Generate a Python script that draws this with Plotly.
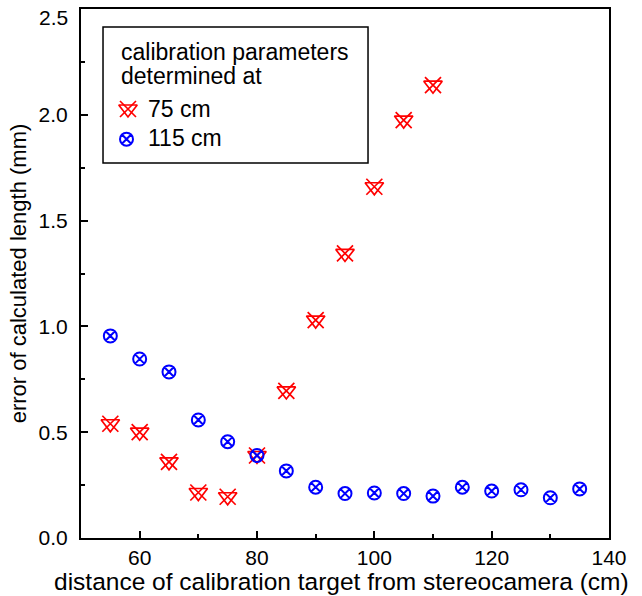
import plotly.graph_objects as go

# data
x_75 = [55, 60, 65, 70, 75, 80, 85, 90, 95, 100, 105, 110]
y_75 = [0.54, 0.50, 0.36, 0.215, 0.195, 0.39, 0.695, 1.03, 1.345, 1.66, 1.975, 2.14]
x_115 = [55, 60, 65, 70, 75, 80, 85, 90, 95, 100, 105, 110, 115, 120, 125, 130, 135]
y_115 = [0.955, 0.846, 0.785, 0.558, 0.455, 0.39, 0.317, 0.24, 0.21, 0.213, 0.21, 0.198,
         0.24, 0.222, 0.228, 0.19, 0.232]
x_ticks = [60, 80, 100, 120, 140]
y_ticks = [0.0, 0.5, 1.0, 1.5, 2.0, 2.5]
legend_title = ["calibration parameters", "determined at"]
legend_labels = ["75 cm", "115 cm"]
x_title = "distance of calibration target from stereocamera (cm)"
y_title = "error of calculated length (mm)"

RED = "#FF0000"
BLUE = "#0000FF"
FONT = "Liberation Sans, Arial, sans-serif"

fig = go.Figure()
# 75 cm series: down triangle overlaid with an X
fig.add_trace(go.Scatter(x=x_75, y=y_75, mode="markers", showlegend=False,
                         marker=dict(symbol="triangle-down-open", size=16,
                                     color=RED, line=dict(color=RED, width=1.7))))
fig.add_trace(go.Scatter(x=x_75, y=y_75, mode="markers", showlegend=False,
                         marker=dict(symbol="x-thin-open", size=16,
                                     color=RED, line=dict(color=RED, width=1.7))))
# 115 cm series
fig.add_trace(go.Scatter(x=x_115, y=y_115, mode="markers", showlegend=False,
                         marker=dict(symbol="circle-x-open", size=13,
                                     color=BLUE, line=dict(color=BLUE, width=2))))

# custom legend on an overlay axis (0..1)
lx = [0.089, 0.0862]
ly = [0.811, 0.754]
fig.add_trace(go.Scatter(x=[lx[0]], y=[ly[0]], xaxis="x2", yaxis="y2", mode="markers",
                         showlegend=False, hoverinfo="skip",
                         marker=dict(symbol="triangle-down-open", size=16, color=RED,
                                     line=dict(color=RED, width=1.7))))
fig.add_trace(go.Scatter(x=[lx[0]], y=[ly[0]], xaxis="x2", yaxis="y2", mode="markers",
                         showlegend=False, hoverinfo="skip",
                         marker=dict(symbol="x-thin-open", size=16, color=RED,
                                     line=dict(color=RED, width=1.7))))
fig.add_trace(go.Scatter(x=[lx[1]], y=[ly[1]], xaxis="x2", yaxis="y2", mode="markers",
                         showlegend=False, hoverinfo="skip",
                         marker=dict(symbol="circle-x-open", size=13, color=BLUE,
                                     line=dict(color=BLUE, width=2))))

fig.add_shape(type="rect", xref="paper", yref="paper", x0=0.0417, x1=0.5436,
              y0=0.709, y1=0.966, line=dict(color="black", width=1.5),
              fillcolor="rgba(0,0,0,0)")

ann_font = dict(family=FONT, size=23, color="black")
fig.add_annotation(xref="paper", yref="paper", x=0.072, y=0.919, xanchor="left",
                   yanchor="middle", text=legend_title[0], showarrow=False, font=ann_font)
fig.add_annotation(xref="paper", yref="paper", x=0.072, y=0.874, xanchor="left",
                   yanchor="middle", text=legend_title[1], showarrow=False, font=ann_font)
fig.add_annotation(xref="paper", yref="paper", x=0.123, y=0.811, xanchor="left",
                   yanchor="middle", text=legend_labels[0], showarrow=False, font=ann_font)
fig.add_annotation(xref="paper", yref="paper", x=0.123, y=0.756, xanchor="left",
                   yanchor="middle", text=legend_labels[1], showarrow=False, font=ann_font)

# axis titles
fig.add_annotation(xref="paper", yref="paper", x=0.494, y=-0.083, xanchor="center",
                   yanchor="middle", text=x_title, showarrow=False,
                   font=dict(family=FONT, size=24.5, color="black"))
# top tick label nudged inside the page, as in the reference
fig.add_annotation(xref="paper", yref="y", x=0, y=y_ticks[-1], xanchor="right",
                   yanchor="middle", xshift=-11, yshift=-8, text=f"{y_ticks[-1]:.1f}",
                   showarrow=False, font=dict(family=FONT, size=21, color="black"))

axis_common = dict(showline=True, linecolor="black", linewidth=2, mirror=True,
                   showgrid=False, zeroline=False, ticks="inside", tickcolor="black",
                   tickwidth=2, ticklen=7, automargin=False,
                   tickfont=dict(family=FONT, size=21, color="black"))

fig.update_layout(
    width=642, height=596,
    margin=dict(l=81, r=33, t=9, b=58, autoexpand=False),
    plot_bgcolor="white", paper_bgcolor="white",
    font=dict(family=FONT, color="black"),
    xaxis=dict(range=[50, 140], tickmode="array", tickvals=x_ticks,
               ticktext=[str(v) for v in x_ticks], ticklabelstandoff=0,
               minor=dict(dtick=10, tick0=0, ticks="inside", ticklen=4, tickwidth=2,
                          tickcolor="black"),
               **axis_common),
    yaxis=dict(range=[0, 2.5], tickmode="array", tickvals=y_ticks,
               ticktext=[f"{v:.1f}" for v in y_ticks[:-1]] + [""], ticklabelstandoff=7,
               minor=dict(dtick=0.25, tick0=0, ticks="inside", ticklen=4, tickwidth=2,
                          tickcolor="black"),
               title=dict(text=y_title, font=dict(family=FONT, size=22), standoff=6),
               **axis_common),
    xaxis2=dict(range=[0, 1], overlaying="x", visible=False, anchor="y2"),
    yaxis2=dict(range=[0, 1], overlaying="y", visible=False, anchor="x2"),
)

fig.write_html("out.html", config={"displayModeBar": False},
               post_script="document.body.style.margin='0';"
               "document.body.style.overflow='hidden';")
